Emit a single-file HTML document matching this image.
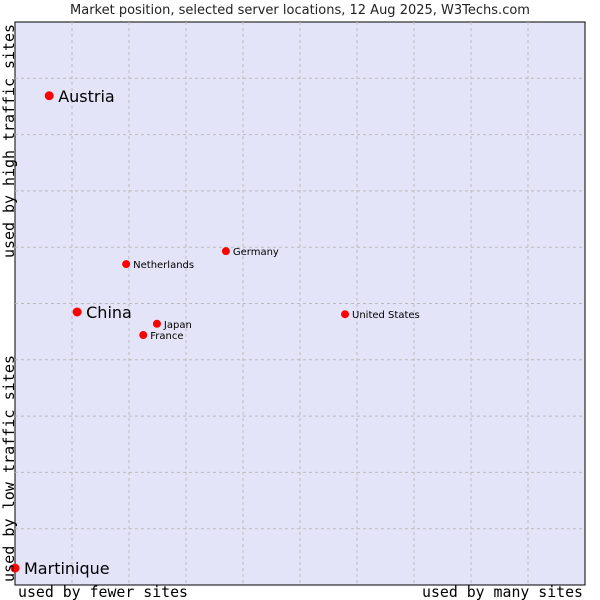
<!DOCTYPE html>
<html><head><meta charset="utf-8"><style>
body{margin:0;background:#fff}
svg{display:block}
</style></head><body>
<svg id="chart" width="600" height="600" xmlns="http://www.w3.org/2000/svg">
<text x="300" y="14" text-anchor="middle" font-family="DejaVu Sans, sans-serif" font-size="13" fill="#222">Market position, selected server locations, 12 Aug 2025, W3Techs.com</text>
<rect x="15" y="22" width="570" height="563" fill="#e4e4f8" stroke="#000" stroke-width="1"/>
<g id="grid"></g>
<g id="points"></g>
<text x="18" y="597" textLength="170" lengthAdjust="spacingAndGlyphs" font-family="DejaVu Sans Mono, monospace" font-size="15" fill="#000">used by fewer sites</text>
<text x="422" y="597" textLength="161" lengthAdjust="spacingAndGlyphs" font-family="DejaVu Sans Mono, monospace" font-size="15" fill="#000">used by many sites</text>
<text transform="translate(14,582) rotate(-90)" textLength="227" lengthAdjust="spacingAndGlyphs" font-family="DejaVu Sans Mono, monospace" font-size="15" fill="#000">used by low traffic sites</text>
<text transform="translate(14,258) rotate(-90)" textLength="234" lengthAdjust="spacingAndGlyphs" font-family="DejaVu Sans Mono, monospace" font-size="15" fill="#000">used by high traffic sites</text>
</svg>
<script>
const names = ["Austria","China","Netherlands","Germany","Japan","France","United States","Martinique"];
const xVals = [6.0,10.9,19.5,37.0,24.9,22.5,57.9,0];
const yVals = [86.9,48.5,57.0,59.3,46.4,44.4,48.1,3.0];
const big = [true,true,false,false,false,false,false,true];
const NS="http://www.w3.org/2000/svg";
const L=15,R=585,T=22,B=585;
const sx=v=>L+v/100*(R-L);
const sy=v=>B-v/100*(B-T);
const grid=document.getElementById('grid');
for(let i=1;i<10;i++){
  const v=document.createElementNS(NS,'line');
  
  
  v.setAttribute('x1',sx(i*10));v.setAttribute('x2',sx(i*10));v.setAttribute('y1',T);v.setAttribute('y2',B);
  v.setAttribute('stroke','#bbb');v.setAttribute('stroke-dasharray','3,3');
  grid.appendChild(v);
  const h=document.createElementNS(NS,'line');
  
  
  h.setAttribute('y1',sy(i*10));h.setAttribute('y2',sy(i*10));h.setAttribute('x1',L);h.setAttribute('x2',R);
  h.setAttribute('stroke','#bbb');h.setAttribute('stroke-dasharray','3,3');
  grid.appendChild(h);
}
const pts=document.getElementById('points');
names.forEach((n,i)=>{
  const x=sx(xVals[i]),y=sy(yVals[i]);
  const d=document.createElementNS(NS,'circle');
  
  
  d.setAttribute('cx',x);d.setAttribute('cy',y);
  d.setAttribute('r',big[i]?4.5:4);
  d.setAttribute('fill','#f00');
  pts.appendChild(d);
  const t=document.createElementNS(NS,'text');
  
  
  t.setAttribute('x',x+(big[i]?9:7));
  t.setAttribute('y',y+(big[i]?6:4));
  t.setAttribute('font-family','DejaVu Sans, sans-serif');
  t.setAttribute('font-size',big[i]?16:10);
  t.setAttribute('fill','#000');
  t.textContent=n;
  pts.appendChild(t);
});
</script>
</body></html>
